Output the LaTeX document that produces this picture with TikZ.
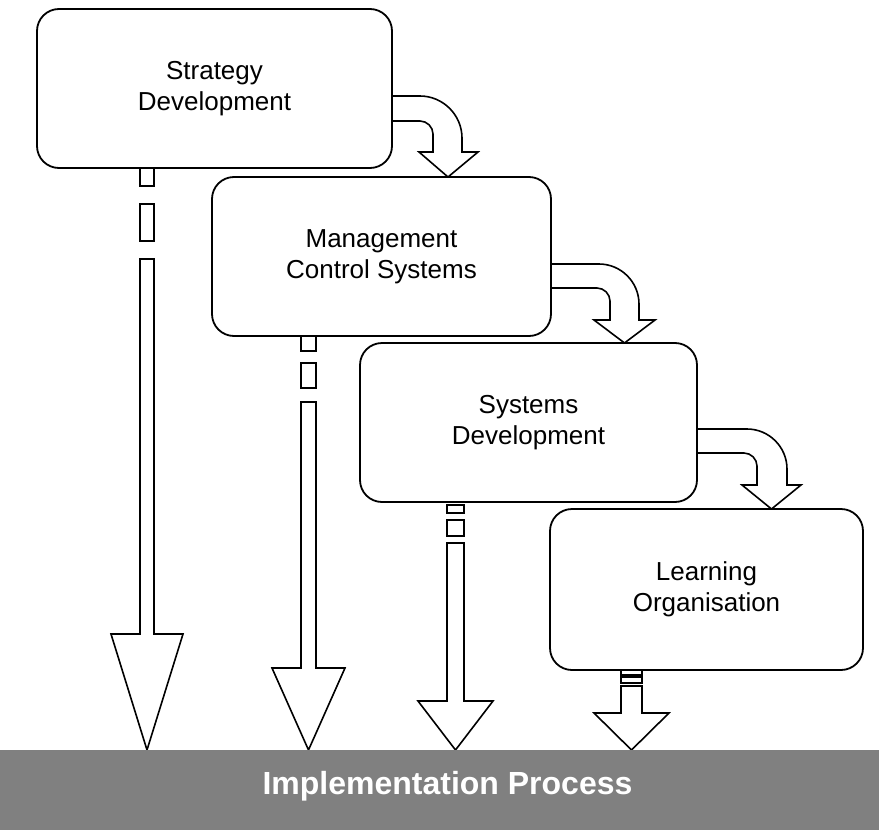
\documentclass[tikz,border=0pt]{standalone}
\usepackage{fontspec}
\setmainfont{Liberation Sans}
\usetikzlibrary{positioning}

\begin{document}
\begin{tikzpicture}[x=1pt, y=-1pt, line width=1.8pt,
        phase/.style = {draw, fill=white, rounded corners=22pt, align=center,
        inner sep=0pt, outer sep=0pt, font=\fontsize{26}{31}\selectfont},
        blockarrow/.style = {draw, fill=white, line width=1.6pt, line join=miter}]
        \useasboundingbox (0,0) rectangle (879,830);

        % curved arrows from one phase to the next (tails hidden under boxes)
        \draw [blockarrow] (380,96) -- (420,96)
        .. controls (443,96) and (462,115) .. (462,138) -- (462,152)
        -- (478,152) -- (448,177) -- (419,152) -- (433,152) -- (433,134)
        .. controls (433,127) and (427,121) .. (420,121) -- (380,121) -- cycle;
        \draw [blockarrow] (540,264) -- (599,264)
        .. controls (621,264) and (639,282) .. (639,304) -- (639,320)
        -- (655,320) -- (624.5,343) -- (594,320) -- (610,320) -- (610,301)
        .. controls (610,294) and (604,288) .. (597,288) -- (540,288) -- cycle;
        \draw [blockarrow] (685,429) -- (747,429)
        .. controls (769,429) and (787,447) .. (787,469) -- (787,485)
        -- (801,485) -- (771.5,509) -- (742,485) -- (757,485) -- (757,466)
        .. controls (757,459) and (751,453) .. (744,453) -- (685,453) -- cycle;

        % striped arrows down to the implementation process
        \draw [blockarrow] (140,160) rectangle (154,186);
        \draw [blockarrow] (140,204) rectangle (154,241);
        \draw [blockarrow] (140,259) -- (140,634) -- (111,634) -- (147,750)
        -- (183,634) -- (154,634) -- (154,259) -- cycle;

        \draw [blockarrow] (301,330) rectangle (316,351);
        \draw [blockarrow] (301,363) rectangle (316,388);
        \draw [blockarrow] (301,402) -- (301,668) -- (272,668) -- (308.5,750)
        -- (345,668) -- (316,668) -- (316,402) -- cycle;

        \draw [blockarrow] (447,505) rectangle (464,513);
        \draw [blockarrow] (447,520) rectangle (464,536);
        \draw [blockarrow] (447,543) -- (447,701) -- (418,701) -- (455.5,750)
        -- (493,701) -- (464,701) -- (464,543) -- cycle;

        \draw [blockarrow] (621,665) rectangle (642,675);
        \draw [blockarrow] (621,677) rectangle (642,683);
        \draw [blockarrow] (621,686) -- (621,713) -- (594,713) -- (631.5,750)
        -- (669,713) -- (642,713) -- (642,686) -- cycle;

        % the four phases
        \node [phase, minimum width=355pt, minimum height=159pt] (strat)
        at (214.5,88.5) {Strategy\\Development};
        \node [phase, minimum width=339pt, minimum height=159pt,
        below right=9pt and 175pt of strat.south west] (mcs)
        {Management\\Control Systems};
        \node [phase, minimum width=337pt, minimum height=159pt,
        below right=7pt and 148pt of mcs.south west] (sysdev)
        {Systems\\Development};
        \node [phase, minimum width=313pt, minimum height=161pt,
        below right=7pt and 190pt of sysdev.south west] (learn)
        {Learning\\Organisation};

        \node [fill=gray, minimum width=879pt, minimum height=80pt,
        inner sep=0pt] (impl) at (439.5,790) {};
        \node [text=white, anchor=base, font=\fontsize{32}{37}\selectfont\bfseries]
        (impltext) at (447.5,794) {Implementation Process};
\end{tikzpicture}
\end{document}
